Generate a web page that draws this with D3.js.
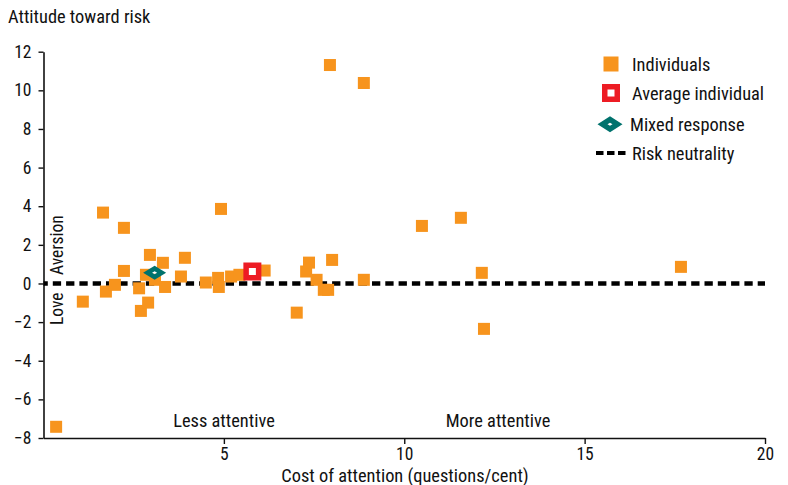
<!DOCTYPE html>
<html>
<head>
<meta charset="utf-8">
<script src="https://cdn.jsdelivr.net/npm/d3@7"></script>
<style>
  html, body { margin: 0; padding: 0; background: #fff; }
  text { font-family: "Liberation Sans Narrow", "Arial Narrow", "Roboto Condensed", "DejaVu Sans Condensed", sans-serif; fill: #111; }
</style>
</head>
<body>
<svg id="chart" width="788" height="485"></svg>
<script>
// ---- Data ----
const individualsX = [0.35, 1.09, 1.65, 1.73, 1.98, 2.23, 2.23, 2.65, 2.70, 2.90, 2.95, 3.31, 2.84, 3.09, 3.37,
  3.92, 3.81, 4.50, 4.84, 4.86, 4.92, 5.20, 5.43, 6.13, 7.02, 7.28, 7.36, 7.57, 7.77, 7.89,
  7.94, 8.00, 8.88, 8.88, 10.49, 11.57, 12.15, 12.21, 17.67];
const individualsY = [-7.42, -0.94, 3.67, -0.42, -0.07, 2.88, 0.65, -0.25, -1.42, -0.99, 1.48, 1.07, 0.45, 0.19, -0.18,
  1.33, 0.36, 0.05, 0.29, -0.18, 3.86, 0.36, 0.45, 0.67, -1.51, 0.62, 1.08, 0.19, -0.33, -0.33,
  11.31, 1.22, 10.38, 0.19, 2.98, 3.40, 0.55, -2.35, 0.86];
const averageX = [5.79];
const averageY = [0.62];
const mixedX = [3.08];
const mixedY = [0.56];
const xTicks = [5, 10, 15, 20];
const yTicks = [-8, -6, -4, -2, 0, 2, 4, 6, 8, 10, 12];
const legendLabels = ["Individuals", "Average individual", "Mixed response", "Risk neutrality"];

const orange = "#F7941D", red = "#ED1C24", teal = "#00726D";

const svg = d3.select("#chart");
const mLeft = 43.5, mRight = 765, mTop = 51.7, mBottom = 438;
const x = d3.scaleLinear().domain([0, 20]).range([mLeft, mRight]);
const y = d3.scaleLinear().domain([-8, 12]).range([mBottom, mTop]);

// Axes
const xAxis = svg.append("g").attr("transform", `translate(0,${mBottom})`)
  .call(d3.axisBottom(x).tickValues(xTicks).tickSize(6).tickSizeOuter(0).tickPadding(4));
const yAxis = svg.append("g").attr("transform", `translate(${mLeft},0)`)
  .call(d3.axisLeft(y).tickValues(yTicks).tickSize(5).tickSizeOuter(0).tickPadding(7));
[xAxis, yAxis].forEach(g => {
  g.select(".domain").attr("stroke", "#111").attr("stroke-width", 1.6);
  g.selectAll(".tick line").attr("stroke", "#111").attr("stroke-width", 1.4);
  g.selectAll(".tick text").style("font-size", "17.5px").attr("fill", "#111");
});

// Risk neutrality line
svg.append("line")
  .attr("x1", x(0)).attr("x2", x(20)).attr("y1", y(0)).attr("y2", y(0))
  .attr("stroke", "#000").attr("stroke-width", 4.5)
  .attr("stroke-dasharray", "8.3,5").attr("stroke-dashoffset", 4);

// Individuals
const sq = 12;
svg.append("g").selectAll("rect").data(individualsX.map((d, i) => [d, individualsY[i]]))
  .join("rect")
  .attr("x", d => x(d[0]) - sq / 2).attr("y", d => y(d[1]) - sq / 2)
  .attr("width", sq).attr("height", sq).attr("fill", orange);

function hollowSquare(cx, cy, outer, inner) {
  const o = outer / 2, n = inner / 2;
  return `M${cx - o},${cy - o}H${cx + o}V${cy + o}H${cx - o}Z M${cx - n},${cy - n}V${cy + n}H${cx + n}V${cy - n}Z`;
}
function hollowDiamond(cx, cy, w, h, hw, hh) {
  return `M${cx - w / 2},${cy}L${cx},${cy - h / 2}L${cx + w / 2},${cy}L${cx},${cy + h / 2}Z M${cx - hw / 2},${cy}L${cx},${cy + hh / 2}L${cx + hw / 2},${cy}L${cx},${cy - hh / 2}Z`;
}
// Average individual (hollow red square)
svg.append("g").selectAll("path").data(averageX.map((d, i) => [d, averageY[i]]))
  .join("path")
  .attr("d", d => hollowSquare(x(d[0]), y(d[1]), 18, 7))
  .attr("fill", red).attr("fill-rule", "evenodd");

// Mixed response (hollow teal diamond)
svg.append("g").selectAll("path").data(mixedX.map((d, i) => [d, mixedY[i]]))
  .join("path")
  .attr("d", d => hollowDiamond(x(d[0]), y(d[1]), 23, 14, 5, 3))
  .attr("fill", teal).attr("fill-rule", "evenodd");

// Axis titles
svg.append("text").attr("x", 8).attr("y", 23).style("font-size", "18.4px").text("Attitude toward risk");
svg.append("text").attr("x", 405).attr("y", 482).attr("text-anchor", "middle")
  .style("font-size", "18.4px").text("Cost of attention (questions/cent)");

// Annotations
svg.append("text").attr("x", 224).attr("y", 427).attr("text-anchor", "middle").style("font-size", "18.4px").text("Less attentive");
svg.append("text").attr("x", 498).attr("y", 427).attr("text-anchor", "middle").style("font-size", "18.4px").text("More attentive");
svg.append("text").attr("transform", "translate(63,275) rotate(-90)").style("font-size", "17.5px").text("Aversion");
svg.append("text").attr("transform", "translate(63,325) rotate(-90)").style("font-size", "17.5px").text("Love");

// Legend
const lg = svg.append("g");
lg.append("rect").attr("x", 603.5).attr("y", 56.5).attr("width", 15).attr("height", 15).attr("fill", orange);
lg.append("path").attr("d", hollowSquare(611, 93, 18, 7)).attr("fill", red).attr("fill-rule", "evenodd");
lg.append("path").attr("d", hollowDiamond(610, 124.3, 25, 16, 5, 3)).attr("fill", teal).attr("fill-rule", "evenodd");
lg.append("line").attr("x1", 596).attr("x2", 626).attr("y1", 153).attr("y2", 153)
  .attr("stroke", "#000").attr("stroke-width", 4).attr("stroke-dasharray", "7.5,3.5");
const legendY = [64, 93, 124, 153];
const legendX = [632, 632, 630, 632];
lg.selectAll("text.leg").data(legendLabels).join("text").attr("class", "leg")
  .attr("x", (d, i) => legendX[i]).attr("y", (d, i) => legendY[i] + 6.5)
  .style("font-size", "18.4px").text(d => d);
</script>
</body>
</html>
